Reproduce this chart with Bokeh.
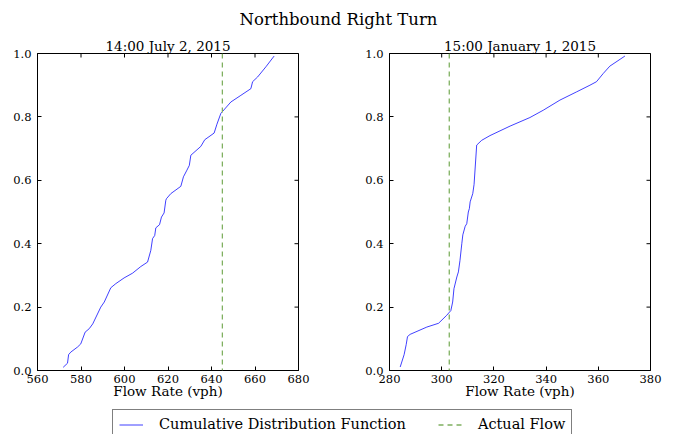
import math
from bokeh.plotting import figure
from bokeh.layouts import column, row
from bokeh.models import (Span, Label, Legend, LegendItem, FixedTicker,
                          PrintfTickFormatter, Range1d)
from bokeh.embed import file_html
from bokeh.resources import INLINE

suptitle = "Northbound Right Turn"
panel_titles = ["14:00 July 2, 2015", "15:00 January 1, 2015"]
x_label = "Flow Rate (vph)"
legend_labels = ["Cumulative Distribution Function", "Actual Flow"]

left_flow = [571.8, 573.8, 574.3, 575.3, 578.4, 579.9, 581.9, 583.8, 585.4, 589.1,
             590.7, 593.7, 596.0, 599.8, 603.7, 607.5, 610.6, 612.1, 612.9, 613.9,
             614.4, 616.1, 617.0, 618.2, 619.0, 619.3, 621.3, 625.9, 627.1, 628.7,
             629.8, 630.5, 635.1, 636.9, 641.2, 642.5, 644.3, 648.9, 653.5, 658.1,
             658.9, 661.2, 665.0, 668.8]
left_cdf = [0.010, 0.023, 0.050, 0.058, 0.074, 0.084, 0.121, 0.132, 0.147, 0.200,
            0.216, 0.261, 0.274, 0.292, 0.307, 0.328, 0.342, 0.379, 0.416, 0.426,
            0.450, 0.460, 0.484, 0.497, 0.537, 0.542, 0.558, 0.581, 0.611, 0.632,
            0.647, 0.679, 0.707, 0.728, 0.749, 0.777, 0.811, 0.847, 0.868, 0.889,
            0.911, 0.926, 0.958, 0.992]

right_flow = [284.1, 285.6, 286.4, 286.9, 287.9, 294.3, 298.8, 301.9, 303.5, 304.2,
              304.7, 305.8, 306.4, 307.0, 307.7, 308.1, 309.0, 309.6, 310.2, 310.6,
              310.9, 311.9, 312.4, 313.4, 315.3, 318.5, 326.2, 333.8, 338.9, 345.3,
              351.7, 356.8, 359.3, 361.9, 364.4, 370.2]
right_cdf = [0.011, 0.050, 0.082, 0.107, 0.114, 0.137, 0.149, 0.174, 0.189, 0.216,
             0.258, 0.295, 0.311, 0.347, 0.400, 0.428, 0.455, 0.463, 0.500, 0.511,
             0.532, 0.558, 0.587, 0.711, 0.726, 0.741, 0.771, 0.798, 0.821, 0.853,
             0.879, 0.900, 0.911, 0.937, 0.960, 0.992]

actual_flow = [645.0, 302.9]
x_limits = [(560, 680), (280, 380)]
left_xticks = [560, 580, 600, 620, 640, 660, 680]
right_xticks = [280, 300, 320, 340, 360, 380]
y_ticks = [0.0, 0.2, 0.4, 0.6, 0.8, 1.0]
y_limits = (0.0, 1.0)

FONT = "DejaVu Serif"
CDF_COLOR = "#0000ff"
ACT_COLOR = "#7fb060"


def style_axis(ax, ticks, standoff):
    ax.ticker = FixedTicker(ticks=ticks)
    ax.major_tick_in = 4
    ax.major_tick_out = 0
    ax.minor_tick_line_color = None
    ax.axis_line_color = "black"
    ax.major_tick_line_color = "black"
    ax.major_label_text_font = FONT
    ax.major_label_text_font_size = "11.5px"
    ax.major_label_text_color = "black"
    ax.major_label_standoff = standoff


def make_panel(flow, cdf, actual, xlim, xticks, title, width, bl, br):
    p = figure(width=width, height=372, x_range=Range1d(*xlim), y_range=Range1d(*y_limits),
               output_backend="svg", toolbar_location=None,
               min_border_left=bl, min_border_right=br, min_border_top=19,
               min_border_bottom=36)
    p.xgrid.visible = False
    p.ygrid.visible = False
    p.outline_line_color = "black"
    p.background_fill_color = "white"
    p.border_fill_color = "white"
    p.title.text = title
    p.title.align = "center"
    p.title.text_font = FONT
    p.title.text_font_size = "13.5px"
    p.title.text_font_style = "normal"
    p.title.text_color = "black"
    p.title.standoff = 0
    p.line(flow, cdf, line_color=CDF_COLOR, line_alpha=0.75, line_width=1)
    p.add_layout(Span(location=actual, dimension="height", line_color=ACT_COLOR,
                      line_dash="5 4", line_width=1.3))
    # inward ticks on the top and right edges (outer half is clipped by the frame)
    p.scatter(x=xticks, y=[y_limits[1]] * len(xticks), marker="dash", size=8,
              angle=math.pi / 2, line_color="black", line_width=1)
    p.scatter(x=[xlim[1]] * len(y_ticks), y=y_ticks, marker="dash", size=8,
              line_color="black", line_width=1)
    xa = p.xaxis[0]
    ya = p.yaxis[0]
    style_axis(xa, xticks, 4)
    style_axis(ya, y_ticks, 6)
    ya.formatter = PrintfTickFormatter(format="%.1f")
    xa.axis_label = x_label
    xa.axis_label_text_font = FONT
    xa.axis_label_text_font_style = "normal"
    xa.axis_label_text_font_size = "13.5px"
    xa.axis_label_text_color = "black"
    xa.axis_label_standoff = -3
    return p


p1 = make_panel(left_flow, left_cdf, actual_flow[0], x_limits[0], left_xticks,
                panel_titles[0], 343, 37, 45)
p2 = make_panel(right_flow, right_cdf, actual_flow[1], x_limits[1], right_xticks,
                panel_titles[1], 332, 46, 25)

tf = figure(width=675, height=34, x_range=Range1d(0, 675), y_range=Range1d(0, 34),
            x_axis_type=None, y_axis_type=None, output_backend="svg",
            toolbar_location=None, min_border=0)
tf.xgrid.visible = False
tf.ygrid.visible = False
tf.outline_line_color = None
tf.add_layout(Label(x=338, y=15, text=suptitle, text_align="center",
                    text_baseline="alphabetic", text_font=FONT,
                    text_font_size="16.5px", text_color="black"))

lf = figure(width=675, height=28, x_range=Range1d(0, 1), y_range=Range1d(0, 1),
            x_axis_type=None, y_axis_type=None, output_backend="svg",
            toolbar_location=None, min_border=0)
lf.xgrid.visible = False
lf.ygrid.visible = False
lf.outline_line_color = None
# legend proxies, kept outside the visible range
r1 = lf.line(x=[-5, -4], y=[-5, -4], line_color=CDF_COLOR, line_alpha=0.75, line_width=1)
r2 = lf.line(x=[-5, -4], y=[-5, -4], line_color=ACT_COLOR, line_dash="5 4", line_width=1.3)
legend = Legend(items=[LegendItem(label=legend_labels[0], renderers=[r1]),
                       LegendItem(label=legend_labels[1], renderers=[r2])],
                orientation="horizontal", location=(112, -5), padding=6, spacing=32,
                glyph_width=24, glyph_height=15, label_height=15, label_standoff=16,
                label_text_font=FONT, label_text_font_size="14.5px",
                label_text_color="black", border_line_color="black",
                border_line_width=1, background_fill_alpha=1, margin=0)
lf.add_layout(legend)

layout = column(tf, row(p1, p2), lf)
open("out.html", "w").write(file_html(layout, INLINE))
